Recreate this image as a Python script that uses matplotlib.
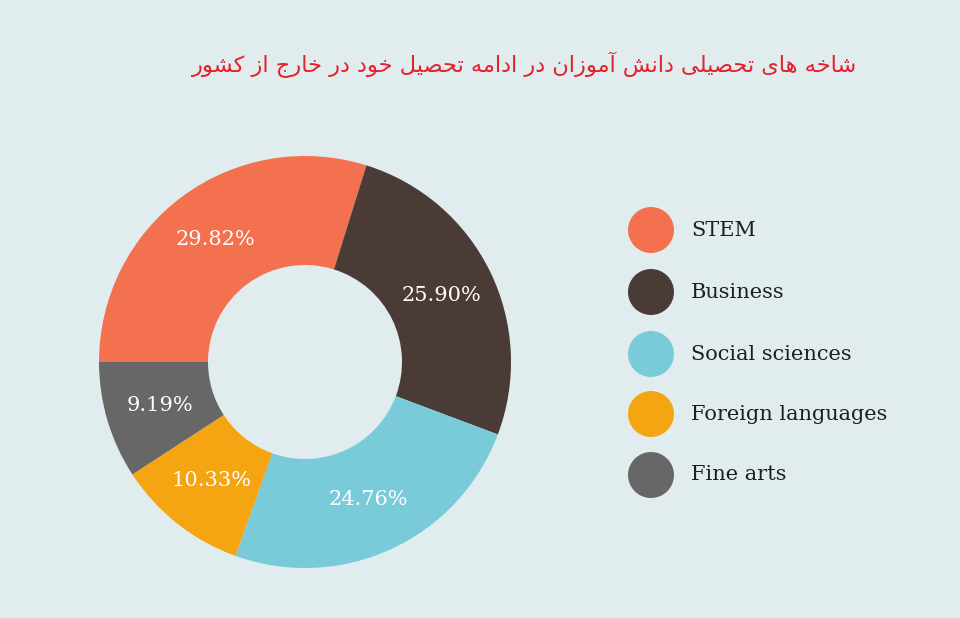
import matplotlib.pyplot as plt
from matplotlib.patches import Circle

# -----------------------------------------------------------------------------
# Data
# -----------------------------------------------------------------------------
title_fa = "شاخه های تحصیلی دانش آموزان در ادامه تحصیل خود در خارج از کشور"
categories = ["STEM", "Business", "Social sciences", "Foreign languages", "Fine arts"]
shares = [29.82, 25.90, 24.76, 10.33, 9.19]
colors = ["#f4714f", "#4b3b36", "#7acbd9", "#f5a512", "#676767"]

bg = "#e0ecee"

# -----------------------------------------------------------------------------
# Minimal Persian shaping (matplotlib has no bidi / joining support)
# forms: (isolated, final, initial, medial); right-joining letters have no initial
# -----------------------------------------------------------------------------
FORMS = {
    "\u0622": ("\uFE81", "\uFE82", None, None),      # آ
    "\u0627": ("\uFE8D", "\uFE8E", None, None),      # ا
    "\u062A": ("\uFE95", "\uFE96", "\uFE97", "\uFE98"),  # ت
    "\u062C": ("\uFE9D", "\uFE9E", "\uFE9F", "\uFEA0"),  # ج
    "\u062D": ("\uFEA1", "\uFEA2", "\uFEA3", "\uFEA4"),  # ح
    "\u062E": ("\uFEA5", "\uFEA6", "\uFEA7", "\uFEA8"),  # خ
    "\u062F": ("\uFEA9", "\uFEAA", None, None),      # د
    "\u0631": ("\uFEAD", "\uFEAE", None, None),      # ر
    "\u0632": ("\uFEAF", "\uFEB0", None, None),      # ز
    "\u0634": ("\uFEB5", "\uFEB6", "\uFEB7", "\uFEB8"),  # ش
    "\u0635": ("\uFEB9", "\uFEBA", "\uFEBB", "\uFEBC"),  # ص
    "\u0644": ("\uFEDD", "\uFEDE", "\uFEDF", "\uFEE0"),  # ل
    "\u0645": ("\uFEE1", "\uFEE2", "\uFEE3", "\uFEE4"),  # م
    "\u0646": ("\uFEE5", "\uFEE6", "\uFEE7", "\uFEE8"),  # ن
    "\u0647": ("\uFEE9", "\uFEEA", "\uFEEB", "\uFEEC"),  # ه
    "\u0648": ("\uFEED", "\uFEEE", None, None),      # و
    "\u06CC": ("\uFBFC", "\uFBFD", "\uFBFE", "\uFBFF"),  # ی
    "\u06A9": ("\uFB8E", "\uFB8F", "\uFB90", "\uFB91"),  # ک
}


def shape_fa(text):
    out = []
    for i, ch in enumerate(text):
        if ch not in FORMS:
            out.append(ch)
            continue
        prev = text[i - 1] if i > 0 else ""
        nxt = text[i + 1] if i + 1 < len(text) else ""
        iso, fin, ini, med = FORMS[ch]
        join_prev = prev in FORMS and FORMS[prev][2] is not None
        join_next = ini is not None and nxt in FORMS
        if join_prev and join_next:
            out.append(med)
        elif join_prev:
            out.append(fin)
        elif join_next:
            out.append(ini)
        else:
            out.append(iso)
    return "".join(reversed(out))


# -----------------------------------------------------------------------------
# Figure (axes in pixel units, y up)
# -----------------------------------------------------------------------------
W, H = 960, 618
fig = plt.figure(figsize=(W / 100, H / 100), dpi=100, facecolor=bg)
ax = fig.add_axes([0, 0, 1, 1])
ax.set_facecolor(bg)

cx, cy, R, r_in = 305, H - 362, 206, 97

ax.pie(
    shares,
    colors=colors,
    startangle=180,
    counterclock=False,
    center=(cx, cy),
    radius=R,
    autopct="%.2f%%",
    pctdistance=(R + r_in) / 2 / R,
    wedgeprops=dict(width=R - r_in, linewidth=0),
    textprops=dict(color="white", fontsize=15, family="DejaVu Serif"),
)

ax.set_xlim(0, W)
ax.set_ylim(0, H)
ax.set_aspect("equal")
ax.axis("off")

# Legend with big dots
legend_y = [230, 292, 354, 414, 475]
for name, col, y in zip(categories, colors, legend_y):
    ax.add_patch(Circle((651, H - y), 23, color=col, lw=0))
    ax.text(691, H - y, name, fontsize=15, family="DejaVu Serif",
            color="#1e1e1e", va="center", ha="left")

# Title
ax.text(857, H - 65, shape_fa(title_fa), fontsize=16.2, family="DejaVu Sans",
        color="#e4222e", ha="right", va="center")

fig.savefig("out.png", dpi=100, facecolor=bg)
